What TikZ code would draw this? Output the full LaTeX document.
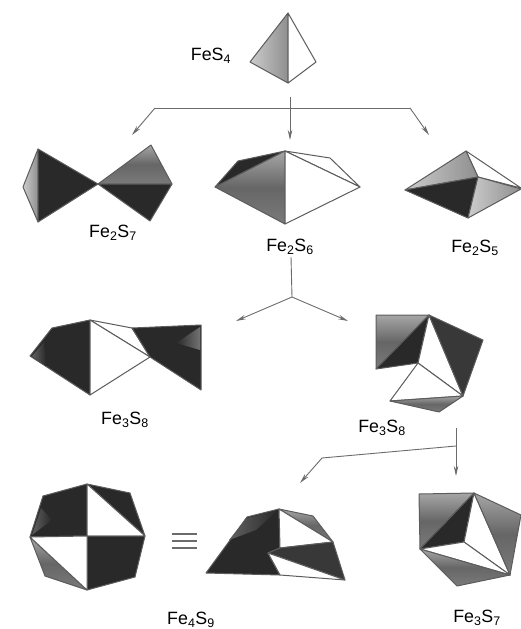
\documentclass[tikz,border=0pt]{standalone}
\usepackage{fontspec}
\setmainfont{Liberation Sans}
\usepackage{xcolor}
\usetikzlibrary{arrows.meta}
\definecolor{edgegray}{gray}{0.36}
\definecolor{flowgray}{gray}{0.42}
\tikzset{
  edge/.style={draw=edgegray, line width=1pt, line join=round},
  blk/.style={edge, fill=black!84},
  mid/.style={edge, top color=black!35, bottom color=black!52, middle color=black!60},
  lite/.style={edge, left color=black!20, right color=black!44},
  wht/.style={edge, fill=white},
  patch/.style={left color=black!62, right color=black!84},
  patchr/.style={left color=black!84, right color=black!55},
  flow/.style={draw=flowgray, line width=0.9pt, line join=round},
  flowtip/.style={flow, -{Stealth[length=10pt, width=4.5pt]}},
  lbl/.style={inner sep=0pt, font=\fontsize{17.8}{20}\selectfont}
}
\begin{document}
\begin{tikzpicture}[x=1pt, y=-1pt]
  \useasboundingbox (0,0) rectangle (521,629);
  % ---- FeS4 ----
  \draw[lite] (288,13) -- (250,62) -- (288,83) -- cycle;
  \draw[wht] (288,13) -- (316,62) -- (288,83) -- cycle;
  \node[lbl] (fes) at (211,56) {FeS\textsubscript{4}};
  % ---- Fe2S7 ----
  \draw[lite] (38,149) -- (23,187) -- (38,222) -- cycle;
  \draw[blk] (38,149) -- (98,184) -- (38,222) -- cycle;
  \draw[mid] (98,184) -- (151,145) -- (172,184) -- cycle;
  \draw[blk] (98,184) -- (172,184) -- (150,221) -- cycle;
  \node[lbl] (fesa) at (113,233) {Fe\textsubscript{2}S\textsubscript{7}};
  % ---- Fe2S6 ----
  \draw[blk] (215,187) -- (238,161) -- (285,151) -- cycle;
  \draw[wht] (285,151) -- (330,158) -- (360,187) -- cycle;
  \draw[mid] (215,187) -- (285,151) -- (285,224) -- cycle;
  \draw[wht] (285,151) -- (360,187) -- (285,224) -- cycle;
  \node[lbl] (fesb) at (290,247) {Fe\textsubscript{2}S\textsubscript{6}};
  % ---- Fe2S5 ----
  \draw[wht] (466,151) -- (521,188) -- (478,177) -- cycle;
  \draw[lite] (405,190) -- (466,151) -- (478,177) -- cycle;
  \draw[blk] (405,190) -- (478,177) -- (468,218) -- cycle;
  \draw[lite] (478,177) -- (521,189) -- (468,218) -- cycle;
  \node[lbl] (fesc) at (475,248) {Fe\textsubscript{2}S\textsubscript{5}};
  % ---- Fe3S8, left ----
  \draw[wht] (90,320) -- (132,328) -- (150,357) -- cycle;
  \draw[blk] (30,356) -- (52,328) -- (90,320) -- (90,395) -- cycle;
  \shade[patch] (32,356) -- (44,342) -- (46,366) -- cycle;
  \draw[wht] (90,320) -- (150,357) -- (90,395) -- cycle;
  \draw[blk] (132,328) -- (201,325) -- (201,390) -- (150,357) -- cycle;
  \shade[patchr] (176,343) -- (200,327) -- (200,350) -- cycle;
  \node[lbl] (fesd) at (125,420) {Fe\textsubscript{3}S\textsubscript{8}};
  % ---- Fe3S8, right ----
  \draw[mid] (376,315) -- (429,315) -- (376,369) -- cycle;
  \draw[blk] (429,315) -- (418,363) -- (376,369) -- cycle;
  \draw[wht] (429,315) -- (463,396) -- (418,363) -- cycle;
  \draw[edge, fill=black!78] (429,315) -- (483,340) -- (463,396) -- cycle;
  \draw[wht] (418,363) -- (463,396) -- (390,401) -- cycle;
  \draw[mid] (390,401) -- (463,396) -- (439,412) -- cycle;
  \node[lbl] (fese) at (382,428) {Fe\textsubscript{3}S\textsubscript{8}};
  % ---- Fe4S9, octagon ----
  \draw[blk] (87,484) -- (43,496) -- (30,537) -- (87,536) -- cycle;
  \shade[patch] (32,535) -- (41,508) -- (52,520) -- cycle;
  \draw[blk] (87,484) -- (130,493) -- (145,536) -- cycle;
  \draw[wht] (87,484) -- (145,536) -- (87,536) -- cycle;
  \draw[blk] (87,536) -- (145,536) -- (135,577) -- (87,590) -- cycle;
  \draw[mid] (30,537) -- (45,576) -- (87,590) -- cycle;
  \draw[wht] (30,537) -- (87,536) -- (87,590) -- cycle;
  % ---- equiv ----
  \draw[flow, line width=1.2pt] (172,534) -- (197,534);
  \draw[flow, line width=1.2pt] (172,541) -- (197,541);
  \draw[flow, line width=1.2pt] (172,548) -- (197,548);
  % ---- Fe4S9, side view ----
  \draw[blk] (206,573) -- (247,517) -- (279,509) -- (280,548) -- (268,553) -- (280,575) -- cycle;
  \shade[patch] (229,540) -- (247,518) -- (278,510) -- (256,530) -- cycle;
  \draw[mid] (279,509) -- (313,516) -- (333,542) -- cycle;
  \draw[wht] (279,509) -- (333,542) -- (280,548) -- cycle;
  \draw[edge, fill=black!78] (280,548) -- (333,542) -- (345,580) -- (268,553) -- cycle;
  \draw[wht] (268,553) -- (345,580) -- (280,575) -- cycle;
  \node[lbl] (fesf) at (191,620) {Fe\textsubscript{4}S\textsubscript{9}};
  % ---- Fe3S7 ----
  \draw[mid] (419,494) -- (474,493) -- (420,549) -- cycle;
  \draw[blk] (474,493) -- (464,542) -- (420,549) -- cycle;
  \draw[wht] (474,493) -- (510,575) -- (464,542) -- cycle;
  \draw[wht] (420,549) -- (464,542) -- (510,575) -- cycle;
  \draw[mid] (474,493) -- (521,515) -- (510,575) -- cycle;
  \draw[mid] (420,549) -- (510,575) -- (457,586) -- cycle;
  \node[lbl] (fesg) at (477,618) {Fe\textsubscript{3}S\textsubscript{7}};
  % ---- arrows, top ----
  \coordinate (topstem) at (290,97);
  \coordinate (topl) at (155,108);
  \coordinate (topr) at (410,108);
  \coordinate (topa) at (132,135);
  \coordinate (topb) at (290,140);
  \coordinate (topc) at (429,135);
  \draw[flow] (topl) -- (topr);
  \draw[flowtip] (topstem) -- (topb);
  \draw[flowtip] (topl) -- (topa);
  \draw[flowtip] (topr) -- (topc);
  % ---- arrows, middle ----
  \coordinate (midstem) at (291,257);
  \coordinate (midj) at (292,297);
  \coordinate (mida) at (236,321);
  \coordinate (midb) at (348,321);
  \draw[flow] (midstem) -- (midj);
  \draw[flowtip] (midj) -- (mida);
  \draw[flowtip] (midj) -- (midb);
  % ---- arrows, bottom ----
  \coordinate (lowstem) at (456,428);
  \coordinate (lowj) at (456,446);
  \coordinate (lowk) at (322,458);
  \coordinate (lowa) at (300,483);
  \coordinate (lowb) at (456,476);
  \draw[flowtip] (lowstem) -- (lowb);
  \draw[flow] (lowj) -- (lowk);
  \draw[flowtip] (lowk) -- (lowa);
\end{tikzpicture}
\end{document}
